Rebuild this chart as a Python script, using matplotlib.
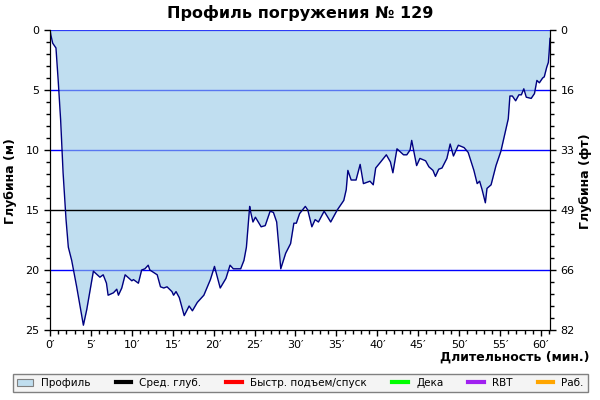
import matplotlib
matplotlib.use("Agg")
import matplotlib.pyplot as plt
from matplotlib.lines import Line2D
from matplotlib.patches import Patch
from matplotlib.ticker import MultipleLocator

# dive profile (minutes / metres)
time_min = [0, 0.1, 0.33, 0.73, 1.0, 1.3, 1.6, 1.96, 2.24, 2.65,
            3.26, 4.08, 4.49, 5.3, 6.1, 6.5, 6.9, 7.1, 7.75, 8.16,
            8.36, 8.77, 9.18, 10.0, 10.2, 10.8, 11.2, 11.6, 12.0, 12.2,
            13.1, 13.5, 13.9, 14.3, 14.9, 15.1, 15.4, 15.8, 16.4, 17.0,
            17.4, 18.0, 18.8, 19.6, 20.1, 20.8, 21.5, 22.0, 22.4, 23.3,
            23.7, 24.0, 24.4, 24.5, 24.8, 25.1, 25.8, 26.3, 26.9, 27.3,
            27.7, 28.2, 28.8, 29.4, 29.8, 30.1, 30.5, 31.2, 31.5, 32.0,
            32.4, 32.8, 33.5, 34.3, 35.1, 35.9, 36.2, 36.4, 36.8, 37.4,
            37.9, 38.3, 39.1, 39.5, 39.8, 40.4, 41.1, 41.6, 41.9, 42.4,
            43.2, 43.6, 44.0, 44.2, 44.8, 45.2, 45.9, 46.3, 46.8, 47.1,
            47.5, 47.9, 48.5, 48.9, 49.3, 49.9, 50.6, 51.1, 51.8, 52.2,
            52.5, 52.8, 53.2, 53.4, 53.9, 54.5, 55.1, 55.4, 56.0, 56.2,
            56.5, 56.9, 57.3, 57.6, 57.9, 58.2, 58.8, 59.2, 59.5, 59.8,
            60.2, 60.4, 60.7, 60.9, 61.0, 61.1]
depth_m = [0, 0.4, 1.1, 1.5, 4.2, 7.5, 11.9, 15.8, 18.1, 19.2,
           21.4, 24.6, 23.3, 20.1, 20.6, 20.4, 21.1, 22.1, 21.9, 21.6,
           22.1, 21.5, 20.4, 20.9, 20.8, 21.1, 20.0, 19.9, 19.6, 20.0,
           20.4, 21.4, 21.5, 21.4, 21.8, 22.1, 21.8, 22.3, 23.8, 23.0,
           23.4, 22.7, 22.1, 20.8, 19.7, 21.5, 20.7, 19.6, 19.9, 19.9,
           19.2, 18.1, 14.7, 15.1, 16.0, 15.6, 16.4, 16.3, 15.1, 15.2,
           16.0, 19.9, 18.6, 17.8, 16.1, 16.1, 15.3, 14.7, 15.0, 16.4,
           15.8, 16.0, 15.1, 16.0, 15.0, 14.2, 13.3, 11.7, 12.5, 12.5,
           11.2, 12.8, 12.6, 12.9, 11.5, 11.0, 10.4, 11.0, 11.9, 9.9,
           10.4, 10.4, 10.0, 9.2, 11.3, 10.7, 10.9, 11.4, 11.7, 12.2,
           11.6, 11.5, 10.7, 9.5, 10.5, 9.6, 9.8, 10.2, 11.7, 12.8,
           12.6, 13.3, 14.4, 13.2, 12.9, 11.3, 10.1, 9.2, 7.4, 5.5,
           5.5, 5.9, 5.4, 5.4, 4.9, 5.6, 5.7, 5.3, 4.2, 4.4,
           4.0, 3.9, 3.1, 2.7, 1.8, 0.7]

avg_depth = 15.0
grid_depths = [0, 5, 10, 20]
x_ticks = [0, 5, 10, 15, 20, 25, 30, 35, 40, 45, 50, 55, 60]
m_ticks = [0, 5, 10, 15, 20, 25]
ft_labels = ["0", "16", "33", "49", "66", "82"]

legend_labels = ["Профиль", "Сред. глуб.", "Быстр. подъем/спуск", "Дека", "RBT", "Раб."]
legend_colors = ["#c0deef", "black", "red", "#00ff00", "#a020f0", "orange"]

plt.rcParams["font.family"] = ["DejaVu Sans"]

fig = plt.figure(figsize=(6, 4), dpi=100)
ax = fig.add_axes([50 / 600, 70 / 400, 500 / 600, 300 / 400])

# blue depth lines sit under the semi-transparent fill
for d in grid_depths:
    ax.axhline(d, color="#0000ff", lw=1, zorder=1)
ax.fill_between(time_min, 0, depth_m, color=(150 / 255, 200 / 255, 230 / 255), alpha=0.6,
                lw=0, zorder=2)
ax.axhline(avg_depth, color="black", lw=1, zorder=3)
ax.plot(time_min, depth_m, color="#000080", lw=1, zorder=4)

ax.set_xlim(0, 61.1)
ax.set_ylim(25, 0)
ax.set_xticks(x_ticks)
ax.set_xticklabels([f"{t}\u2032" for t in x_ticks])
ax.xaxis.set_minor_locator(MultipleLocator(1))
ax.set_yticks(m_ticks)
ax.yaxis.set_minor_locator(MultipleLocator(1))
ax.tick_params(which="both", direction="out", labelsize=8, length=4, width=1)
ax.tick_params(which="minor", length=3)
ax.spines["top"].set_visible(False)

ax2 = ax.twinx()
ax2.set_ylim(25, 0)
ax2.set_yticks(m_ticks)
ax2.set_yticklabels(ft_labels)
ax2.yaxis.set_minor_locator(MultipleLocator(1))
ax2.tick_params(which="both", direction="out", labelsize=8, length=4, width=1)
ax2.tick_params(which="minor", length=3)
ax2.spines["top"].set_visible(False)

fig.text(0.5, 0.968, "Профиль погружения № 129", ha="center", va="center",
         fontsize=11.5, fontweight="bold")
fig.text(0.018, 0.548, "Глубина (м)", rotation=90, ha="center", va="center",
         fontsize=9, fontweight="bold")
fig.text(0.975, 0.548, "Глубина (фт)", rotation=90, ha="center", va="center",
         fontsize=9, fontweight="bold")
fig.text(0.983, 0.107, "Длительность (мин.)", ha="right", va="center",
         fontsize=9, fontweight="bold")

handles = [Patch(facecolor=legend_colors[0], edgecolor="#808080", lw=0.8)]
handles += [Line2D([], [], color=c, lw=3) for c in legend_colors[1:]]
leg = fig.legend(handles, legend_labels, loc="center", ncol=6, fontsize=7.5,
                 bbox_to_anchor=(13 / 600, 4 / 400, 575 / 600, 26 / 400), mode="expand",
                 frameon=True, fancybox=False, handlelength=1.5, handletextpad=0.8,
                 borderaxespad=0)
leg.get_frame().set_facecolor("#f4f4f4")
leg.get_frame().set_edgecolor("#808080")
leg.get_frame().set_alpha(1)

fig.savefig("out.png", dpi=100)
